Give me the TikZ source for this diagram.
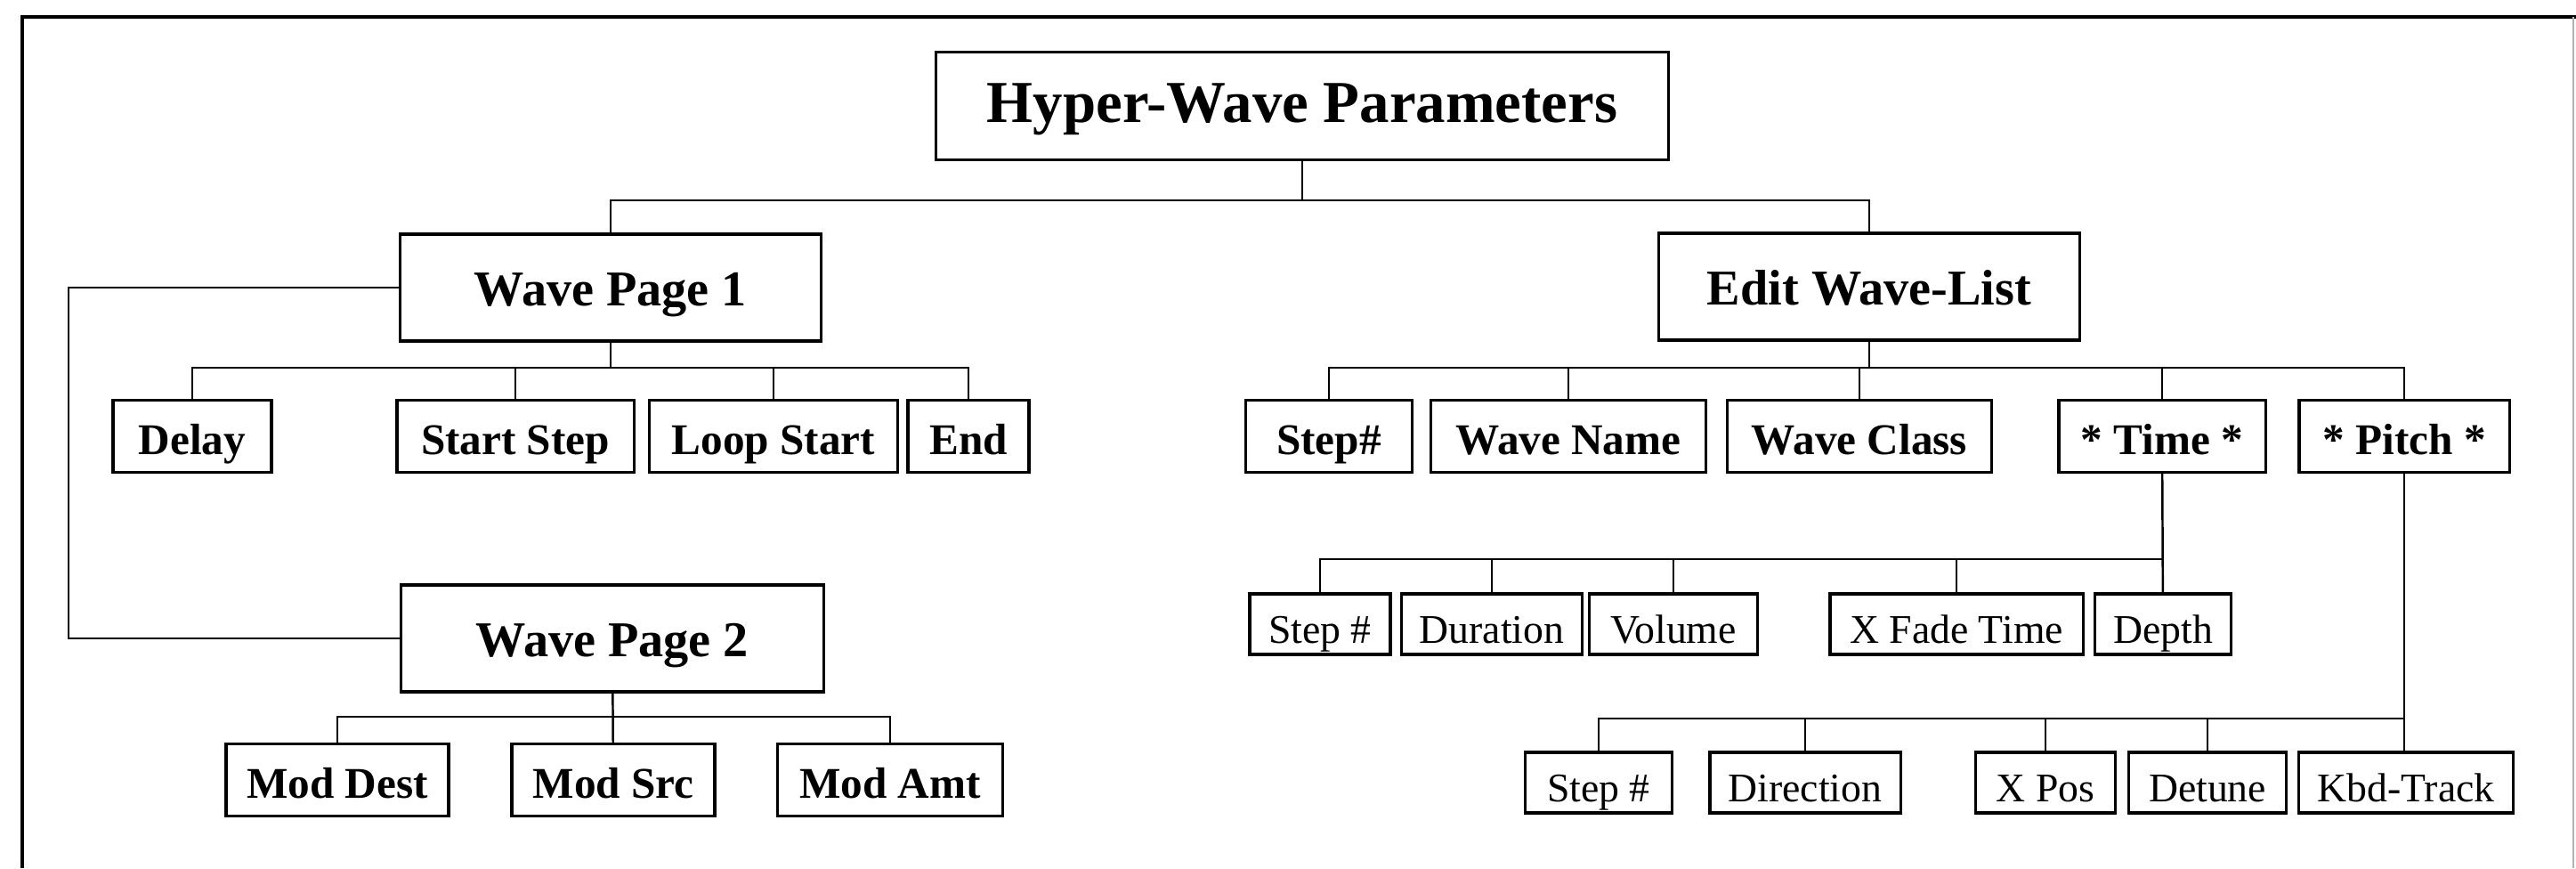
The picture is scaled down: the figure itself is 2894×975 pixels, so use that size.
\documentclass[tikz,border=0pt]{standalone}
\usepackage{fontspec}
\setmainfont{Liberation Serif}
\usepackage{tikz}
\usetikzlibrary{positioning, calc}

\begin{document}
\begin{tikzpicture}[x=0.01cm, y=-0.01cm,
    box/.style={draw, line width=0.9pt, inner sep=0pt, align=center},
    head/.style={box, minimum height=1.21cm, text height=12pt, text depth=1.2pt,
      font=\fontsize{19}{22}\selectfont\bfseries},
    page/.style={box, minimum height=1.2cm, text height=12.4pt, text depth=1pt,
      font=\fontsize{16}{19}\selectfont\bfseries},
    item/.style={box, minimum height=0.81cm, text height=12.4pt, text depth=1pt,
      font=\fontsize{14}{17}\selectfont\bfseries},
    sub/.style={box, minimum height=0.68cm, text height=13pt, text depth=1pt,
      font=\fontsize{13}{16}\selectfont},
    link/.style={line width=0.7pt}]
  \useasboundingbox (0,0) rectangle (2894,975);
  % outer frame, open at the bottom
  \draw[line width=1.3pt] (25,975) -- (25,19) -- (2894,19);
  \draw[black!30, line width=0.6pt] (2891,19) -- (2891,975);

  % top levels
  \node[head, minimum width=8.22cm] (hyper) at (1463,119) {Hyper-Wave Parameters};
  \node[page, minimum width=4.73cm] (wp1) at (686,323) {Wave Page 1};
  \node[page, minimum width=4.72cm] (ewl) at (2100,322) {Edit Wave-List};
  \node[page, minimum width=4.75cm] (wp2) at (688,717) {Wave Page 2};

  % wave page 1 items
  \node[item, minimum width=1.78cm] (delay) at (216,490) {Delay};
  \node[item, minimum width=2.66cm] (sstep) at (579,490) {Start Step};
  \node[item, minimum width=2.79cm] (lstart) at (869,490) {Loop Start};
  \node[item, minimum width=1.36cm] (lend) at (1088,490) {End};

  % wave page 2 items
  \node[item, minimum width=2.50cm] (mdest) at (379,876) {Mod Dest};
  \node[item, minimum width=2.28cm] (msrc) at (689,876) {Mod Src};
  \node[item, minimum width=2.53cm] (mamt) at (1000,876) {Mod Amt};

  % wave-list items
  \node[item, minimum width=1.87cm] (wstep) at (1493,490) {Step\#};
  \node[item, minimum width=3.09cm] (wname) at (1762,490) {Wave Name};
  \node[item, minimum width=2.97cm] (wclass) at (2089,490) {Wave Class};
  \node[item, minimum width=2.32cm] (wtime) at (2429,490) {* Time *};
  \node[item, minimum width=2.36cm] (wpitch) at (2701,490) {* Pitch *};

  % time items
  \node[sub, minimum width=1.58cm] (tstep) at (1483,701) {Step \#};
  \node[sub, minimum width=2.03cm] (tdur) at (1676,701) {Duration};
  \node[sub, minimum width=1.89cm] (tvol) at (1880,701) {Volume};
  \node[sub, minimum width=2.84cm] (tfade) at (2198,701) {X Fade Time};
  \node[sub, minimum width=1.53cm] (tdepth) at (2430,701) {Depth};

  % pitch items
  \node[sub, minimum width=1.65cm] (pstep) at (1796,879) {Step \#};
  \node[sub, minimum width=2.14cm] (pdir) at (2028,879) {Direction};
  \node[sub, minimum width=1.57cm] (pxpos) at (2298,879) {X Pos};
  \node[sub, minimum width=1.77cm] (pdet) at (2480,879) {Detune};
  \node[sub, minimum width=2.41cm] (pkbd) at (2703,879) {Kbd-Track};

  % bus lines
  \coordinate (hbus) at (0,225);
  \coordinate (ibus) at (0,413);
  \coordinate (mbus) at (0,805);
  \coordinate (tbus) at (0,628);
  \coordinate (pbus) at (0,807);
  \coordinate (lside) at (77,0);

  \draw[link] (hyper) -- (hyper |- hbus);
  \draw[link] (wp1) -- (wp1 |- hbus) -- (ewl |- hbus) -- (ewl);
  \draw[link] (wp1.west) -- (lside |- wp1.west) -- (lside |- wp2.west) -- (wp2.west);

  \draw[link] (wp1) -- (wp1 |- ibus);
  \draw[link] (delay) -- (delay |- ibus) -- (lend |- ibus) -- (lend);
  \foreach \n in {sstep, lstart}
    \draw[link] (\n) -- (\n |- ibus);

  \draw[link] (wp2) -- (msrc);
  \draw[link] (mdest) -- (mdest |- mbus) -- (mamt |- mbus) -- (mamt);

  \draw[link] (ewl) -- (ewl |- ibus);
  \draw[link] (wstep) -- (wstep |- ibus) -- (wpitch |- ibus) -- (wpitch);
  \foreach \n in {wname, wclass, wtime}
    \draw[link] (\n) -- (\n |- ibus);

  \draw[link] (wtime) -- (tdepth);
  \draw[link] (tstep) -- (tstep |- tbus) -- (tdepth |- tbus);
  \foreach \n in {tdur, tvol, tfade}
    \draw[link] (\n) -- (\n |- tbus);

  \draw[link] (wpitch) -- (wpitch |- pkbd.north);
  \draw[link] (pstep) -- (pstep |- pbus) -- (wpitch |- pbus);
  \foreach \n in {pdir, pxpos, pdet}
    \draw[link] (\n) -- (\n |- pbus);
\end{tikzpicture}
\end{document}
